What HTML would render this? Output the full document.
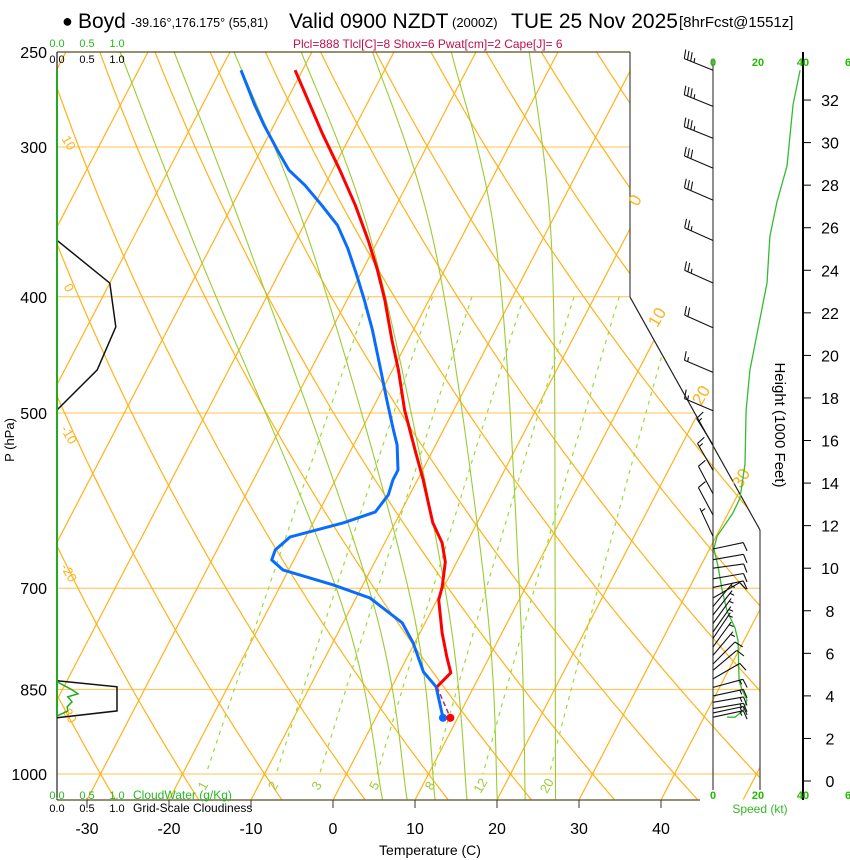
<!DOCTYPE html>
<html><head><meta charset="utf-8"><style>
html,body{margin:0;padding:0;background:#fff;}
svg{display:block;font-family:"Liberation Sans",Arial,sans-serif;}
</style></head><body>
<svg id="chart" width="850" height="860" viewBox="0 0 850 860" xmlns="http://www.w3.org/2000/svg">
<defs><clipPath id="diag"><polygon points="57,52 630,52 630,297 760,530 760,800 57,800"/></clipPath>
<clipPath id="diag2"><polygon points="57,52 630,52 630,297 760,530 760,776 57,776"/></clipPath></defs>
<g id="bg" clip-path="url(#diag)"></g>
<g id="fg"></g>
<text x="62" y="27" font-size="18">●</text>
<text x="78" y="28" font-size="21">Boyd</text>
<text x="131" y="27" font-size="12.5">-39.16°,176.175° (55,81)</text>
<text x="289" y="28" font-size="21">Valid 0900 NZDT</text>
<text x="452" y="27" font-size="13">(2000Z)</text>
<text x="511" y="28" font-size="21">TUE 25 Nov 2025</text>
<text x="679" y="27" font-size="15">[8hrFcst@1551z]</text>
<text x="293" y="48" font-size="12" fill="#c0104a">Plcl=888 Tlcl[C]=8 Shox=6 Pwat[cm]=2 Cape[J]= 6</text>
<text x="0" y="0" font-size="13" transform="translate(14,440) rotate(-90)" text-anchor="middle">P (hPa)</text>
<text x="430" y="855" font-size="14" text-anchor="middle">Temperature (C)</text>
<text x="0" y="0" font-size="15" transform="translate(775,425) rotate(90)" text-anchor="middle">Height (1000 Feet)</text>
<text x="760" y="813" font-size="12" fill="#33bb22" text-anchor="middle">Speed (kt)</text>
<text x="133" y="799" font-size="12" fill="#22bb22">CloudWater (g/Kg)</text>
<text x="133" y="812" font-size="12" fill="#000">Grid-Scale Cloudiness</text>
</svg>
<script>
// ---------- data ----------
const tempP = [258.9,292.2,313.7,335.5,358.9,379.9,402.4,434.5,460.3,497.1,536.7,568.5,617.4,641.6,665.5,698.2,715.8,762.6,798.6,823.5,845.9];
const tempT = [-50.9,-43.6,-39.1,-35.0,-31.2,-28.2,-25.4,-22.0,-19.3,-16.0,-12.2,-9.3,-5.4,-3.0,-1.4,-0.2,0.2,2.7,4.8,6.3,5.5];
const dewP = [258.9,276.9,287.7,301.8,313.7,322.9,335.5,348.7,364.4,383.6,402.4,426.3,455.9,487.7,516.5,531.6,557.8,568.5,585.2,604.6,617.4,634.3,650.3,663.0,675.8,695.6,713.2,748.1,777.4,821.9,845.9,897.8];
const dewT = [-57.5,-53.6,-51.2,-48.0,-45.3,-42.4,-39.1,-35.9,-33.2,-30.4,-27.9,-25.0,-21.9,-18.8,-16.1,-14.7,-13.0,-13.0,-12.6,-13.1,-16.3,-21.9,-22.9,-22.7,-20.7,-13.6,-8.3,-2.8,-0.2,2.9,5.4,8.2];
const sfcP = 897.8, sfcT = 9.1, sfcTd = 8.2;
const cloudP = [358.9,389.6,423.8,460.3,497.1];
const cloudF = [0,0.88,0.98,0.67,0];
const cloudP2 = [836.2,845.9,885.9,897.8];
const cloudF2 = [0,1.0,1.0,0];
const cwP = [837.6,850.8,857.4,862.3,870.6,879.0,885.9,894.5];
const cwV = [0,0.25,0.35,0.18,0.25,0.17,0.18,0];
const spdH = [33.4,31.8,28.9,27.2,25.6,23.4,19.3,17.4,14.9,13.3,12.6,11.9,11.5,10.9,10.1,9.0,8.0,7.2,6.6,4.7,4.3,3.8,3.3,3.0,3.0];
const spdV = [38.7,35.6,32.9,28.4,25.3,24.0,16.4,14.7,14.2,12.0,8.9,4.4,1.8,0.4,2.2,4.0,6.2,9.8,11.1,11.6,12.9,15.1,13.3,9.8,6.2];
const barbH = [33.4,31.7,30.2,28.8,27.3,25.4,23.4,21.3,19.2,17.4,15.8,14.6,13.5,12.5,11.5,10.9,10.4,10.0,9.5,9.1,8.6,8.2,7.8,7.4,7.0,6.7,6.3,5.9,5.5,5.2,4.8,4.4,4.0,3.7,3.4,3.2,3.0];
const barbDir = [292,292,292,293,293,294,294,294,293,293,328,330,332,332,335,78,80,82,80,78,60,40,38,36,35,34,36,40,45,50,60,75,78,80,80,78,78];
const barbSpd = [35,35,35,30,30,25,25,20,15,15,15,15,10,10,5,10,10,10,10,10,10,5,5,5,5,5,5,5,10,10,10,15,15,15,15,15,15];
const pressTicks = [250,300,400,500,700,850,1000];
const tempTicks = [-30,-20,-10,0,10,20,30,40];
const heightTicks = [0,2,4,6,8,10,12,14,16,18,20,22,24,26,28,30,32];
const mixRatios = [1,2,3,5,8,12,20];
// moist adiabat reference temperatures at fixed pressure levels
const moistLevels = [1050,715.8,365.6,250];
const moistA = [6.0,-11.8,-51.5,-73.4];
const moistB = [9.0,-7.9,-45.0,-66.8];
const moistC = [12.4,-3.2,-37.4,-59.5];
const moistD = [16.3,1.2,-29.9,-51.3];
const moistE = [20.0,6.0,-22.4,-42.6];
const moistF = [23.4,10.1,-14.9,-33.0];
const moistG = [27.1,14.4,-8.2,-23.5];
// ---------- axes ----------
const X0=333, PXC=8.2, SKEW=0.52, YB=800, Y250=52, KP=520.8;
function yP(p){return Y250+(Math.log(p)-Math.log(250))*KP;}
function xT(T,p){return X0+PXC*T+SKEW*(YB-yP(p));}
const CX0=57, CPX=60;
function xC(v){return CX0+CPX*v;}
function yH(h){return 781-21.28*h;}
const WX0=713, WPX=2.25;
function xS(s){return WX0+WPX*s;}
const NS='http://www.w3.org/2000/svg';
const bg=document.getElementById('bg'), fg=document.getElementById('fg');
function mk(tag,attrs,parent){const e=document.createElementNS(NS,tag);for(const k in attrs)e.setAttribute(k,attrs[k]);(parent||fg).appendChild(e);return e;}
function pts(arr){return arr.map(a=>a[0].toFixed(1)+','+a[1].toFixed(1)).join(' ');}
const ORANGE='#ffb21a', GREEN='#99cc33';
// isobars
for(const p of [300,400,500,700,850,1000]){
  const y=yP(p);
  const l=mk('line',{x1:57,y1:y,x2:760,y2:y,stroke:'#ffc04d','stroke-width':1},bg);
  
  
}
// isotherms
for(let T=-110;T<=60;T+=10){
  const l=mk('line',{x1:xT(T,1050),y1:yP(1050),x2:xT(T,250),y2:yP(250),stroke:ORANGE,'stroke-width':1.2},bg);
  
  
}
// dry adiabats
for(let th=-40;th<=200;th+=10){
  const a=[];for(let p=250;p<=1050;p+=10){const T=(th+273.15)*Math.pow(p/1000,0.2857)-273.15;a.push([xT(T,p),yP(p)]);}
  const l=mk('polyline',{points:pts(a),fill:'none',stroke:ORANGE,'stroke-width':1.2},bg);
  
  
}
// moist adiabats (smooth curve through level temperatures, Catmull-Rom in ln p)
for(const arr of [moistA,moistB,moistC,moistD,moistE,moistF,moistG]){
  const P=moistLevels.map(p=>[xT(arr[moistLevels.indexOf(p)],p),yP(p)]);
  let d=`M${P[0][0].toFixed(1)},${P[0][1].toFixed(1)}`;
  for(let i=0;i<P.length-1;i++){
    const p0=P[Math.max(0,i-1)],p1=P[i],p2=P[i+1],p3=P[Math.min(P.length-1,i+2)];
    const c1=[p1[0]+(p2[0]-p0[0])/6,p1[1]+(p2[1]-p0[1])/6];
    const c2=[p2[0]-(p3[0]-p1[0])/6,p2[1]-(p3[1]-p1[1])/6];
    d+=`C${c1[0].toFixed(1)},${c1[1].toFixed(1)} ${c2[0].toFixed(1)},${c2[1].toFixed(1)} ${p2[0].toFixed(1)},${p2[1].toFixed(1)}`;
  }
  const l=mk('path',{d:d,fill:'none',stroke:GREEN,'stroke-width':1.1},bg);
  
  
}
// mixing ratio lines
function tdFromW(w,p){const e=w*p/(622+w);const g=Math.log(e/6.112);return 243.5*g/(17.67-g);}
const mg=mk('g',{'clip-path':'url(#diag2)'});


for(const w of mixRatios){
  const a=[];for(let p=400;p<=1000;p+=10)a.push([xT(tdFromW(w,p),p),yP(p)]);
  const l=mk('polyline',{points:pts(a),fill:'none',stroke:'#99dd33','stroke-width':1.2,'stroke-dasharray':'4,5'},mg);
  
  
  const px=xT(tdFromW(w,1022),1022),py=yP(1022);
  const t=mk('text',{x:px,y:py+5,'font-size':13,fill:'#99cc33','text-anchor':'middle',transform:`rotate(-60 ${px} ${py})`});
  t.textContent=w;
  
  
}
// frame
const frame=[['57,52','630,52','#5a4a1a'],['630,52','630,297','#444'],['630,297','760,530','#222'],['760,530','760,790','#444'],['57,800','700,800','#5a4a1a'],['57,52','57,800','#222'],['713,60','713,790','#444']];
for(const f of frame){const [a,b]=[f[0].split(','),f[1].split(',')];
  const l=mk('line',{x1:a[0],y1:a[1],x2:b[0],y2:b[1],stroke:f[2],'stroke-width':1.2});
  
  }
const ha=mk('line',{x1:803,y1:52,x2:803,y2:800,stroke:'#000','stroke-width':2});


// labels in diagram
const thLab=[['10',65,145],['0',65,290],['-10',65,437],['-20',65,575],['-30',65,716]];
for(const L of thLab){const t=mk('text',{x:L[1],y:L[2],'font-size':13,fill:ORANGE,'text-anchor':'middle',transform:`rotate(60 ${L[1]} ${L[2]})`});t.textContent=L[0];
  
  }
const itLab=[['0',640,203],['10',662,320],['20',706,398],['30',746,481]];
for(const L of itLab){const t=mk('text',{x:L[1],y:L[2],'font-size':17,fill:ORANGE,'text-anchor':'middle',transform:`rotate(-60 ${L[1]} ${L[2]})`});t.textContent=L[0];
  
  }
// pressure ticks
for(const p of pressTicks){const t=mk('text',{x:47,y:yP(p)+6,'font-size':16,'text-anchor':'end'});t.textContent=p;
  
  }
// temperature ticks
for(const T of tempTicks){const x=X0+PXC*T;
  const l=mk('line',{x1:x,y1:800,x2:x,y2:808,stroke:'#333'});
  
  
  const t=mk('text',{x:x,y:834,'font-size':16,'text-anchor':'middle'});t.textContent=T;
  
  }
// height ticks
for(const h of heightTicks){const y=yH(h);
  const l=mk('line',{x1:803,y1:y,x2:811,y2:y,stroke:'#000'});
  
  
  const t=mk('text',{x:830,y:y+6,'font-size':16,'text-anchor':'middle'});t.textContent=h;
  
  }
// speed scale labels
for(const yy of [66,799]){for(const s of [0,20,40,60]){const t=mk('text',{x:xS(s),y:yy,'font-size':11,'font-weight':'bold',fill:'#22bb00','text-anchor':'middle'});t.textContent=s===60?'6':s;
  
  }}
// cloud scale labels
const cs=[['0.0',57],['0.5',87],['1.0',117]];
for(const c of cs){
  for(const r of [[47,'#22bb22'],[63,'#000'],[799,'#22bb22'],[812,'#000']]){
    const t=mk('text',{x:c[1],y:r[0],'font-size':11,fill:r[1],'text-anchor':'middle'});t.textContent=c[0];
    
    }}
// cloudiness
const cl1=mk('polyline',{points:pts(cloudP.map((p,i)=>[xC(cloudF[i]),yP(p)])),fill:'none',stroke:'#111','stroke-width':1.5});


const cl2=mk('polyline',{points:pts(cloudP2.map((p,i)=>[xC(cloudF2[i]),yP(p)])),fill:'none',stroke:'#111','stroke-width':1.5});


const gl=mk('line',{x1:57,y1:70,x2:57,y2:716,stroke:'#22aa22','stroke-width':2});


const cw=mk('polyline',{points:pts(cwP.map((p,i)=>[xC(cwV[i]),yP(p)])),fill:'none',stroke:'#22aa22','stroke-width':1.5});


// profiles
const tl=mk('polyline',{points:pts(tempP.map((p,i)=>[xT(tempT[i],p),yP(p)])),fill:'none',stroke:'#ff0000','stroke-width':3,'stroke-linejoin':'round'});


const dl=mk('polyline',{points:pts(dewP.map((p,i)=>[xT(dewT[i],p),yP(p)])),fill:'none',stroke:'#0a6cff','stroke-width':3,'stroke-linejoin':'round'});


const pl=mk('line',{x1:xT(tempT[tempT.length-1],tempP[tempP.length-1]),y1:yP(tempP[tempP.length-1]),x2:xT(sfcT,sfcP),y2:yP(sfcP),stroke:'#993377','stroke-width':1.5,'stroke-dasharray':'5,3'});


const sd=mk('circle',{cx:xT(sfcTd,sfcP),cy:yP(sfcP),r:4,fill:'#0a6cff'});


const st=mk('circle',{cx:xT(sfcT,sfcP),cy:yP(sfcP),r:4,fill:'#ff0000'});


// wind speed line
const sl=mk('polyline',{points:pts(spdH.map((h,i)=>[xS(spdV[i]),yH(h)])),fill:'none',stroke:'#33bb33','stroke-width':1.3});


// wind barbs
for(let i=0;i<barbH.length;i++){
  const d=barbDir[i]*Math.PI/180, ux=Math.sin(d), uy=-Math.cos(d);
  const bx=WX0, by=yH(barbH[i]), L=31;
  const tx=bx+ux*L, ty=by+uy*L;
  const px=-uy, py=ux;
  let dstr=`M${bx.toFixed(1)},${by.toFixed(1)}L${tx.toFixed(1)},${ty.toFixed(1)}`;
  let s=barbSpd[i], off=0;
  const full=Math.floor(s/10), half=(s%10)>=5?1:0;
  for(let k=0;k<full;k++){const sx=tx-ux*off, sy=ty-uy*off;dstr+=`M${sx.toFixed(1)},${sy.toFixed(1)}l${(px*9+ux*2).toFixed(1)},${(py*9+uy*2).toFixed(1)}`;off+=3.5;}
  if(half){if(full===0)off=3.5;const sx=tx-ux*off, sy=ty-uy*off;dstr+=`M${sx.toFixed(1)},${sy.toFixed(1)}l${(px*4.5+ux*1).toFixed(1)},${(py*4.5+uy*1).toFixed(1)}`;}
  const b=mk('path',{d:dstr,fill:'none',stroke:'#111','stroke-width':1.1});
  
  
}
</script>
</body></html>
